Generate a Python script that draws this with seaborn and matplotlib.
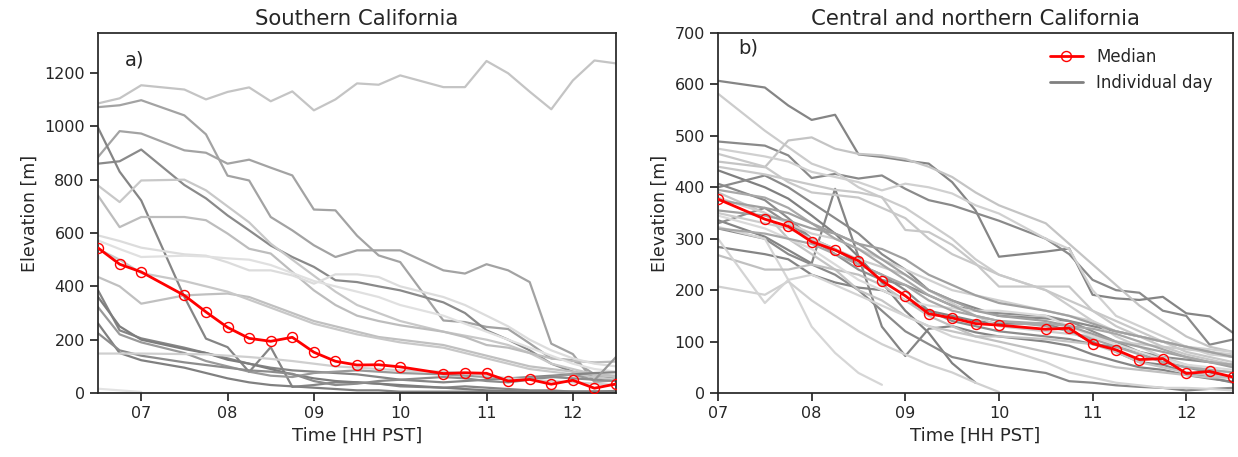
import numpy as np
import pandas as pd
import matplotlib
matplotlib.use("Agg")
import matplotlib.pyplot as plt
from matplotlib.lines import Line2D
import seaborn as sns

nan = np.nan

# Observation times (decimal hours, PST)
hours_south = [6.5, 6.75, 7.0, 7.5, 7.75, 8.0, 8.25, 8.5, 8.75, 9.0, 9.25, 9.5,
               9.75, 10.0, 10.5, 10.75, 11.0, 11.25, 11.5, 11.75, 12.0, 12.25, 12.5]
hours_north = hours_south[2:]

# Median elevation [m]
median_south = [544, 483, 454, 366, 304, 246, 205, 194, 209, 153, 119, 105,
                106, 98, 73, 76, 74, 45, 51, 33, 48, 18, 34]
median_north = [377, 338, 324, 294, 278, 257, 218, 189, 154, 146, 135, 132,
                124, 126, 96, 84, 65, 67, 38, 42, 31]

# Individual days, Southern California
south_days = [
    [1086, 1105, 1154, 1138, 1101, 1129, 1146, 1094, 1131, 1060, 1101, 1161, 1156, 1191, 1147, 1147, 1245, 1199, 1130, 1064, 1172, 1247, 1236],
    [1072, 1079, 1098, 1041, 970, 815, 797, 660, 610, 554, 510, 535, 535, 535, 460, 448, 483, 460, 416, 185, 146, 41, 48],
    [885, 982, 973, 910, 901, 860, 875, 845, 816, 688, 685, 590, 516, 491, 272, 266, 248, 240, 186, 130, 123, 70, 62],
    [860, 869, 913, 780, 730, 666, 610, 553, 510, 473, 423, 416, 400, 385, 340, 300, 235, 200, 160, 110, 80, 60, 55],
    [995, 830, 722, 360, 204, 172, 79, 172, 23, 30, 40, 40, 35, 25, 20, 25, 20, 15, 10, 10, 5, 5, 8],
    [778, 716, 797, 800, 760, 700, 640, 560, 500, 440, 380, 330, 300, 270, 230, 215, 200, 180, 150, 110, 90, 70, 60],
    [740, 622, 660, 660, 648, 598, 541, 523, 454, 385, 330, 290, 270, 254, 230, 210, 180, 170, 150, 130, 120, 115, 118],
    [591, 570, 545, 520, 515, 490, 460, 460, 441, 410, 445, 445, 435, 400, 360, 330, 290, 250, 200, 160, 130, 110, 100],
    [572, 540, 510, 515, 512, 505, 500, 480, 450, 420, 400, 380, 360, 330, 290, 260, 230, 200, 170, 140, 110, 90, 80],
    [435, 400, 335, 366, 370, 373, 360, 330, 300, 270, 250, 230, 210, 200, 180, 160, 140, 120, 100, 90, 80, 70, 65],
    [540, 500, 450, 420, 400, 380, 350, 320, 290, 260, 240, 220, 205, 190, 170, 150, 130, 110, 90, 80, 70, 60, 50],
    [385, 235, 205, 170, 150, 130, 110, 95, 85, 80, 75, 70, 60, 50, 40, 45, 50, 55, 60, 65, 70, 75, 78],
    [360, 250, 200, 165, 150, 125, 110, 90, 70, 55, 45, 40, 35, 30, 20, 15, 10, 8, 5, 5, 5, 5, 5],
    [322, 220, 190, 150, 120, 100, 80, 65, 60, 75, 80, 85, 80, 75, 70, 65, 60, 55, 55, 60, 70, 48, 135],
    [261, 150, 123, 95, 75, 55, 40, 30, 25, 20, 15, 10, 10, 5, 5, 5, 5, 5, 5, 5, 5, 5, 5],
    [224, 160, 140, 115, 105, 95, 85, 80, 72, 45, 30, 35, 45, 50, 60, 55, 45, 40, 50, 60, 55, 50, 45],
    [148, 148, 148, 146, 145, 140, 135, 128, 120, 110, 100, 95, 90, 85, 80, 75, 65, 55, 50, 45, 40, 35, 30],
    [16, 10, 4, nan, nan, nan, nan, nan, nan, nan, nan, nan, nan, nan, nan, nan, nan, nan, nan, nan, nan, nan, nan],
]
south_shades = ["#c4c4c4", "#a3a3a3", "#a3a3a3", "#8a8a8a", "#858585", "#c8c8c8",
                "#bdbdbd", "#dcdcdc", "#e0e0e0", "#c0c0c0", "#c8c8c8", "#858585",
                "#7d7d7d", "#999999", "#808080", "#8c8c8c", "#cfcfcf", "#e3e3e3"]

# Individual days, central and northern California
north_days = [
    [607, 594, 559, 531, 541, 464, 459, 452, 446, 410, 355, 265, 275, 281, 191, 184, 181, 187, 155, 149, 117],
    [489, 481, 462, 418, 426, 417, 423, 397, 375, 365, 350, 335, 300, 270, 220, 200, 195, 160, 150, 94, 104],
    [336, 304, 278, 252, 397, 265, 129, 72, 125, 130, 118, 110, 100, 92, 75, 62, 50, 45, 35, 28, 22],
    [433, 400, 378, 345, 310, 265, 215, 160, 117, 58, 20, nan, nan, nan, nan, nan, nan, nan, nan, nan, nan],
    [407, 375, 340, 300, 280, 250, 230, 200, 160, 140, 130, 120, 110, 105, 95, 90, 80, 70, 65, 60, 55],
    [400, 423, 400, 370, 340, 310, 270, 240, 200, 180, 165, 150, 145, 140, 130, 120, 110, 100, 90, 80, 70],
    [330, 360, 330, 300, 270, 240, 220, 210, 190, 170, 160, 155, 150, 140, 120, 100, 80, 60, 50, 40, 30],
    [284, 270, 260, 230, 215, 205, 200, 180, 160, 150, 140, 135, 135, 120, 100, 80, 60, 55, 40, 30, 20],
    [320, 300, 270, 250, 230, 200, 160, 120, 95, 70, 60, 52, 39, 23, 20, 15, 12, 10, 5, 8, 10],
    [582, 510, 478, 446, 430, 400, 380, 360, 330, 300, 260, 230, 200, 170, 140, 110, 90, 70, 55, 45, 40],
    [450, 439, 491, 497, 475, 465, 462, 455, 440, 420, 390, 365, 330, 290, 250, 210, 170, 140, 110, 90, 80],
    [475, 460, 450, 430, 420, 410, 394, 407, 400, 388, 365, 349, 300, 280, 200, 150, 130, 110, 90, 75, 70],
    [465, 440, 410, 390, 385, 380, 360, 340, 300, 270, 250, 230, 200, 180, 160, 140, 120, 100, 80, 70, 60],
    [323, 300, 220, 129, 78, 39, 16, nan, nan, nan, nan, nan, nan, nan, nan, nan, nan, nan, nan, nan, nan],
    [207, 191, 217, 180, 150, 120, 95, 75, 55, 40, 20, 2, nan, nan, nan, nan, nan, nan, nan, nan, nan],
    [390, 350, 300, 270, 240, 200, 180, 150, 130, 120, 110, 110, 105, 100, 95, 80, 60, 50, 40, 35, 30],
    [350, 330, 320, 300, 280, 260, 245, 230, 200, 175, 150, 130, 120, 115, 110, 100, 95, 90, 85, 80, 75],
    [268, 240, 240, 250, 240, 230, 210, 180, 150, 130, 110, 100, 80, 70, 60, 50, 45, 40, 35, 30, 30],
    [300, 175, 220, 230, 210, 190, 170, 150, 130, 110, 100, 90, 60, 40, 30, 20, 15, 10, 10, 8, 5],
    [440, 425, 415, 405, 395, 390, 381, 317, 313, 288, 252, 207, 207, 207, 160, 130, 110, 90, 75, 65, 55],
    [380, 350, 330, 310, 300, 280, 260, 240, 220, 200, 190, 180, 160, 150, 140, 120, 110, 100, 90, 85, 80],
    [345, 320, 300, 280, 250, 220, 200, 180, 170, 165, 160, 160, 150, 130, 110, 95, 80, 65, 55, 50, 45],
    [395, 380, 360, 330, 300, 280, 250, 220, 190, 170, 150, 140, 130, 120, 105, 90, 75, 60, 50, 45, 40],
    [355, 345, 335, 320, 310, 290, 260, 230, 200, 180, 160, 150, 140, 130, 115, 100, 90, 80, 70, 60, 50],
    [320, 310, 300, 290, 270, 250, 230, 210, 180, 160, 150, 140, 135, 130, 125, 115, 100, 85, 70, 60, 55],
    [375, 360, 350, 330, 310, 290, 280, 260, 230, 210, 190, 175, 160, 150, 135, 120, 110, 100, 90, 80, 70],
]
north_shades = ["#858585", "#8a8a8a", "#858585", "#808080", "#8c8c8c", "#8a8a8a",
                "#8f8f8f", "#858585", "#8a8a8a", "#cccccc", "#c4c4c4", "#d0d0d0",
                "#c8c8c8", "#d6d6d6", "#d0d0d0", "#c4c4c4", "#cccccc", "#c0c0c0",
                "#d4d4d4", "#c8c8c8", "#d0d0d0", "#dadada", "#a8a8a8", "#a0a0a0",
                "#a8a8a8", "#a0a0a0"]

tick_hours = [7, 8, 9, 10, 11, 12]
tick_labels = ["07", "08", "09", "10", "11", "12"]

sns.set_theme(style="ticks")
plt.rcParams["font.family"] = ["DejaVu Sans"]

fig = plt.figure(figsize=(12.38, 4.57), dpi=100)
ax_s = fig.add_axes([0.0792, 0.140, 0.4184, 0.7878])
ax_n = fig.add_axes([0.5800, 0.140, 0.4160, 0.7878])


def draw_panel(ax, hours, days, shades, median):
    rows = []
    for k, vals in enumerate(days):
        for h, v in zip(hours, vals):
            rows.append((f"day{k:02d}", h, v))
    df = pd.DataFrame(rows, columns=["day", "hour", "elev"]).dropna()
    palette = {f"day{k:02d}": c for k, c in enumerate(shades)}
    sns.lineplot(data=df, x="hour", y="elev", hue="day", palette=palette,
                 estimator=None, legend=False, linewidth=1.6, ax=ax)
    sns.lineplot(x=hours, y=median, color="red", linewidth=2.0, marker="o",
                 markersize=7.2, markerfacecolor="none", markeredgecolor="red",
                 markeredgewidth=1.0, ax=ax, zorder=5)
    ax.set_xticks(tick_hours)
    ax.set_xticklabels(tick_labels)
    ax.set_xlabel("Time [HH PST]", fontsize=13)
    ax.set_ylabel("Elevation [m]", fontsize=12.5)
    ax.tick_params(labelsize=11.5)


draw_panel(ax_s, hours_south, south_days, south_shades, median_south)
ax_s.set_xlim(6.5, 12.5)
ax_s.set_ylim(0, 1350)
ax_s.set_yticks(range(0, 1201, 200))
ax_s.set_title("Southern California", fontsize=15.3)
ax_s.text(0.052, 0.925, "a)", transform=ax_s.transAxes, fontsize=14,
          va="center", ha="left")

draw_panel(ax_n, hours_north, north_days, north_shades, median_north)
ax_n.set_xlim(7, 12.5)
ax_n.set_ylim(0, 700)
ax_n.set_yticks(range(0, 701, 100))
ax_n.set_title("Central and northern California", fontsize=15.3)
ax_n.text(0.04, 0.958, "b)", transform=ax_n.transAxes, fontsize=14,
          va="center", ha="left")

handles = [
    Line2D([], [], color="red", linewidth=2.0, marker="o", markersize=7.2,
           markerfacecolor="none", markeredgecolor="red", label="Median"),
    Line2D([], [], color="#808080", linewidth=2.0, label="Individual day"),
]
ax_n.legend(handles=handles, loc="upper right", frameon=False, fontsize=12,
            bbox_to_anchor=(0.99, 1.0))

fig.savefig("out.png", dpi=100)
